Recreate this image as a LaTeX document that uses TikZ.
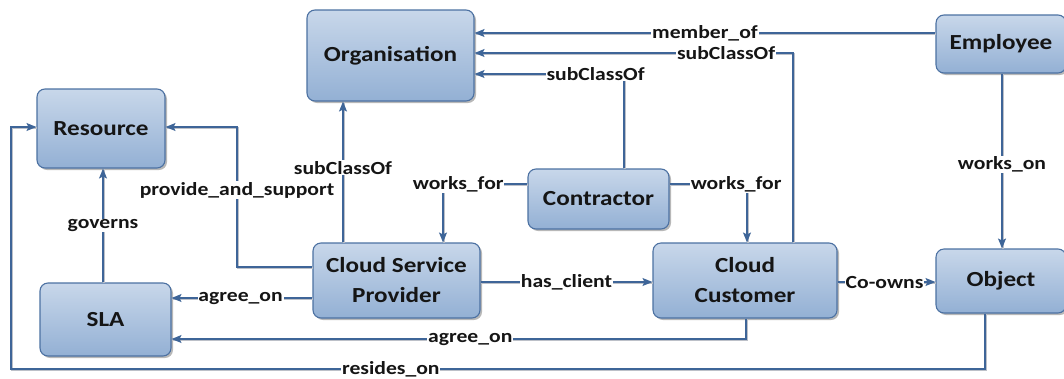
\documentclass[tikz,border=0pt]{standalone}
\usepackage{fontspec}
\setmainfont{Carlito}
\newfontfamily\diafont[FakeStretch=1.17]{Carlito}
\usetikzlibrary{arrows.meta,shadows}

\definecolor{boxtop}{HTML}{C8D7EA}
\definecolor{boxbot}{HTML}{93B0D4}
\definecolor{boxline}{HTML}{4C71A2}
\definecolor{wire}{HTML}{3E6598}
\definecolor{wireshade}{HTML}{BCC0C8}
\definecolor{ink}{HTML}{151515}

\tikzset{
  entity/.style={draw=boxline, line width=1.1pt, rounded corners=8pt,
    top color=boxtop, bottom color=boxbot, align=center, text=ink,
    font=\diafont\bfseries\fontsize{21.5}{30}\selectfont, inner sep=0pt,
    drop shadow={shadow xshift=2pt, shadow yshift=-2pt, fill=black, opacity=0.28}},
  wirepath/.style={draw=wire, line width=1.3pt,
    preaction={draw=wireshade, line width=1.3pt, -,
      transform canvas={shift={(0.9pt,-0.9pt)}}}},
  link/.style={wirepath, -{Stealth[length=10pt,width=8pt,inset=2pt]}},
  tag/.style={fill=white, inner sep=0.8pt, text=ink,
    font=\diafont\bfseries\fontsize{18.5}{20}\selectfont},
}

\begin{document}
\begin{tikzpicture}[x=1pt, y=-1pt]
\useasboundingbox (0,0) rectangle (1064,378);

% classes
\node[entity, minimum width=167pt, minimum height=91pt] (org) at (390.5,55.5) {Organisation};
\node[entity, minimum width=128pt, minimum height=79pt] (res) at (101,128.5) {Resource};
\node[entity, minimum width=131pt, minimum height=73pt] (sla) at (105.5,319.5) {SLA};
\node[entity, minimum width=167pt, minimum height=75pt] (csp) at (396.5,280.5) {Cloud Service\\Provider};
\node[entity, minimum width=141pt, minimum height=60pt] (con) at (598.5,199) {Contractor};
\node[entity, minimum width=184pt, minimum height=75pt] (cc) at (745,280.5) {Cloud\\Customer};
\node[entity, minimum width=130pt, minimum height=64pt] (obj) at (1001,281) {Object};
\node[entity, minimum width=130pt, minimum height=58pt] (emp) at (1001,44) {Employee};

% routing rails
\coordinate (r33) at (0,33);
\coordinate (r53) at (0,53);
\coordinate (r74) at (0,74);
\coordinate (r127) at (0,127);
\coordinate (r184) at (0,184);
\coordinate (r267) at (0,267);
\coordinate (r282) at (0,282);
\coordinate (r298) at (0,298);
\coordinate (r339) at (0,339);
\coordinate (r369) at (0,369);
\coordinate (c11) at (11,0);
\coordinate (c103) at (103,0);
\coordinate (c237) at (237,0);
\coordinate (c343) at (343,0);
\coordinate (c443) at (443,0);
\coordinate (c624) at (624,0);
\coordinate (c746) at (746,0);
\coordinate (c747) at (747,0);
\coordinate (c793) at (793,0);
\coordinate (c985) at (985,0);
\coordinate (c1002) at (1002,0);

% relations
\draw[link] (emp.west |- r33) -- node[tag, pos=0.5] {member\_of} (org.east |- r33);
\draw[link] (c793 |- cc.north) -- (c793 |- r53)
  -- node[tag, pos=0.21] {subClassOf} (org.east |- r53);
\draw[link] (c624 |- con.north) -- (c624 |- r74)
  -- node[tag, pos=0.19] {subClassOf} (org.east |- r74);
\draw[link] (c343 |- csp.north) -- node[tag, pos=0.53] {subClassOf} (c343 |- org.south);
\draw[link] (csp.west |- r267) -- (c237 |- r267)
  -- node[tag, pos=0.55] {provide\_and\_support} (c237 |- r127) -- (res.east |- r127);
\draw[link] (c103 |- sla.north) -- node[tag, pos=0.5] {governs} (c103 |- res.south);
\draw[link] (csp.west |- r298) -- node[tag, pos=0.51] {agree\_on} (sla.east |- r298);
\draw[link] (c746 |- cc.south) -- (c746 |- r339)
  -- node[tag, pos=0.48] {agree\_on} (sla.east |- r339);
\draw[link] (c985 |- obj.south) -- (c985 |- r369)
  -- node[tag, pos=0.61] {resides\_on} (c11 |- r369) -- (c11 |- r127) -- (res.west |- r127);
\draw[link] (csp.east |- r282) -- node[tag, pos=0.5] {has\_client} (cc.west |- r282);
\draw[link] (cc.east |- r282) -- node[tag, pos=0.48] {Co-owns} (obj.west |- r282);
\draw[link] (c1002 |- emp.south) -- node[tag, pos=0.52] {works\_on} (c1002 |- obj.north);
\draw[link] (con.west |- r184) -- node[tag, pos=0.82] {works\_for} (c443 |- r184) -- (c443 |- csp.north);
\draw[link] (con.east |- r184) -- node[tag, pos=0.86] {works\_for} (c747 |- r184) -- (c747 |- cc.north);
\end{tikzpicture}
\end{document}
